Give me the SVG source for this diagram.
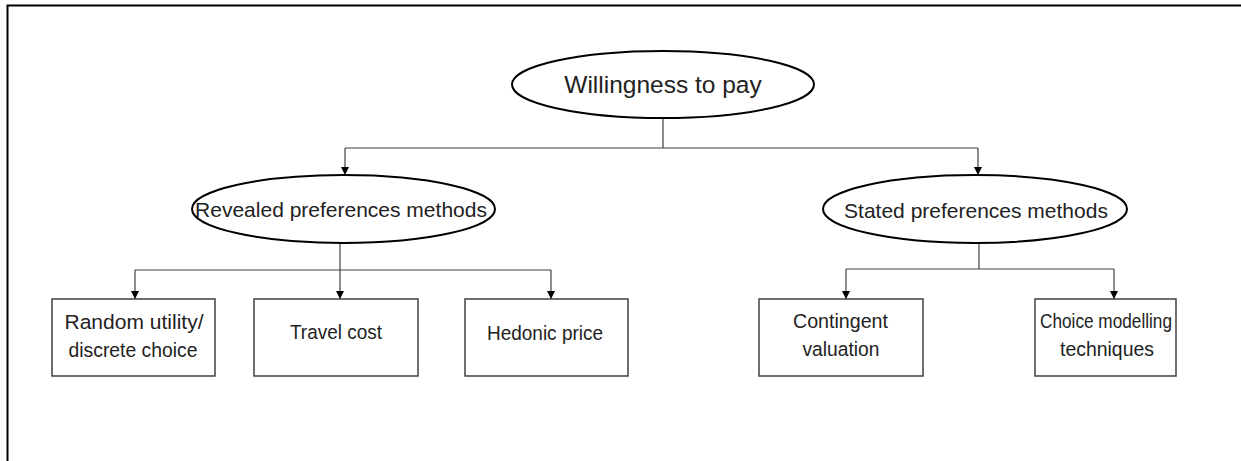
<svg xmlns="http://www.w3.org/2000/svg" width="1241" height="461" viewBox="0 0 1241 461">
<style>
.ell{fill:#fff;stroke:#000;stroke-width:2}
.box{fill:#fff;stroke:#404040;stroke-width:1.5}
.t{font-family:"Liberation Sans",Arial,sans-serif;fill:#222;text-anchor:middle}
.b{font-size:20.5px}
.c{fill:none;stroke:#404040;stroke-width:1.2}
</style>
<defs>
<marker id="ah" markerWidth="8" markerHeight="8" refX="8" refY="4" orient="auto" markerUnits="userSpaceOnUse">
<path d="M0,0 L8,4 L0,8 Z" fill="#000"/>
</marker>
</defs>
<rect width="1241" height="461" fill="#fff"/>
<g id="frame">
<path d="M7.5,461 V5.5 H1241" fill="none" stroke="#000" stroke-width="2"/>
</g>
<g id="connectors">
<path class="c" d="M663,118 V148 M345,148 H978"/>
<path class="c" d="M345,148 V175" marker-end="url(#ah)"/>
<path class="c" d="M978,148 V175" marker-end="url(#ah)"/>
<path class="c" d="M135,270 H551"/>
<path class="c" d="M340,243 V299" marker-end="url(#ah)"/>
<path class="c" d="M135,270 V299" marker-end="url(#ah)"/>
<path class="c" d="M551,270 V299" marker-end="url(#ah)"/>
<path class="c" d="M979,243 V269 M846,269 H1114"/>
<path class="c" d="M846,269 V299" marker-end="url(#ah)"/>
<path class="c" d="M1114,269 V299" marker-end="url(#ah)"/>
</g>
<g id="wtp">
<ellipse class="ell" cx="663" cy="84.5" rx="151" ry="33.5"/>
<text class="t" x="663" y="93" font-size="24.5">Willingness to pay</text>
</g>
<g id="revealed">
<ellipse class="ell" cx="343.5" cy="209" rx="151.5" ry="34"/>
<text class="t" x="341" y="217" font-size="21">Revealed preferences methods</text>
</g>
<g id="stated">
<ellipse class="ell" cx="975" cy="209" rx="152" ry="34"/>
<text class="t" x="976" y="218" font-size="21">Stated preferences methods</text>
</g>
<g id="random">
<rect class="box" x="52" y="299" width="163" height="77"/>
<text class="t b" x="134" y="329" textLength="139" lengthAdjust="spacingAndGlyphs">Random utility/</text>
<text class="t b" x="133" y="357" textLength="129" lengthAdjust="spacingAndGlyphs">discrete choice</text>
</g>
<g id="travel">
<rect class="box" x="254" y="299" width="164" height="77"/>
<text class="t b" x="336" y="339" textLength="92" lengthAdjust="spacingAndGlyphs">Travel cost</text>
</g>
<g id="hedonic">
<rect class="box" x="465" y="299" width="163" height="77"/>
<text class="t b" x="545" y="340" textLength="116" lengthAdjust="spacingAndGlyphs">Hedonic price</text>
</g>
<g id="contingent">
<rect class="box" x="759" y="299" width="164" height="77"/>
<text class="t b" x="840.5" y="328" textLength="95" lengthAdjust="spacingAndGlyphs">Contingent</text>
<text class="t b" x="841" y="356" textLength="77" lengthAdjust="spacingAndGlyphs">valuation</text>
</g>
<g id="choice">
<rect class="box" x="1035" y="299" width="141" height="77"/>
<text class="t b" x="1106" y="328" textLength="132" lengthAdjust="spacingAndGlyphs">Choice modelling</text>
<text class="t b" x="1107" y="356" textLength="94" lengthAdjust="spacingAndGlyphs">techniques</text>
</g>
</svg>
